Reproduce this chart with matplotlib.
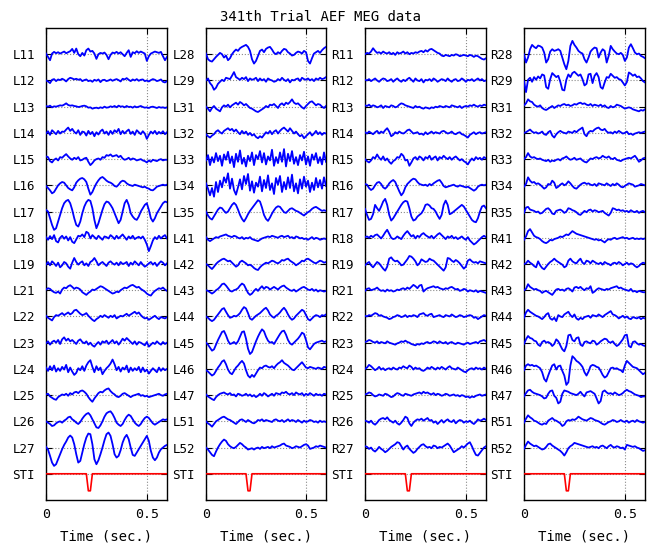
import numpy as np
import matplotlib
matplotlib.use("Agg")
import matplotlib.pyplot as plt

# ---------------- data ----------------
title = "341th Trial AEF MEG data"
xlabel = "Time (sec.)"
t_end = 0.6
xticks = [0, 0.5]
xticklabels = ["0", "0.5"]

labels_1 = ["L11", "L12", "L13", "L14", "L15", "L16", "L17", "L18",
            "L19", "L21", "L22", "L23", "L24", "L25", "L26", "L27", "STI"]
labels_2 = ["L28", "L29", "L31", "L32", "L33", "L34", "L35", "L41",
            "L42", "L43", "L44", "L45", "L46", "L47", "L51", "L52", "STI"]
labels_3 = ["R11", "R12", "R13", "R14", "R15", "R16", "R17", "R18",
            "R19", "R21", "R22", "R23", "R24", "R25", "R26", "R27", "STI"]
labels_4 = ["R28", "R29", "R31", "R32", "R33", "R34", "R35", "R41",
            "R42", "R43", "R44", "R45", "R46", "R47", "R51", "R52", "STI"]

# amplitudes (arbitrary units, up = positive), sampled every 10 ms from 0 to 0.6 s
traces_1 = [
    [2,-8,-18,2,7,3,6,2,5,8,3,6,9,16,4,17,0,-6,4,-4,12,17,8,10,2,-14,0,4,2,5,-2,-15,-2,5,3,7,2,6,0,-6,4,12,-8,6,3,9,4,8,5,2,-20,-6,2,5,8,6,4,7,-6,-18,-8],
    [0,-3,-8,2,4,-2,3,1,5,2,-3,4,8,6,3,5,2,4,-2,1,3,-2,0,-4,2,-1,3,-5,1,2,-2,0,3,-1,2,4,1,-3,5,3,7,2,-2,3,0,4,-1,2,3,-2,0,-3,1,4,2,-2,0,3,-4,-6,-2],
    [2,0,3,-2,1,0,2,4,3,6,10,5,3,4,2,1,-1,0,2,3,1,-3,-2,-6,-4,-3,-5,-2,-4,0,-3,-2,1,-1,2,-2,3,0,1,-2,2,-1,0,-3,1,-2,0,2,-1,-3,-2,-4,-1,0,-2,-4,-1,-3,-2,-4,-2],
    [-2,5,-6,8,2,-4,6,-2,4,3,10,16,6,12,3,-2,8,-6,4,2,-8,6,-4,3,-10,2,-5,5,10,-2,4,-6,6,-3,8,2,12,-4,6,-2,5,10,-3,4,-6,8,2,-4,5,-2,-18,-6,4,-2,6,-4,3,-2,5,-4,2],
    [8,6,-6,-10,-2,2,-4,6,4,10,15,8,2,-2,4,0,6,-4,-2,2,4,-8,-18,-12,-4,0,2,-2,6,4,12,10,14,8,10,12,6,10,2,-2,0,4,-2,2,0,-4,-2,0,-4,-6,-10,-4,-8,-2,-4,-6,-2,0,-4,-2,-2],
    [-2,-8,-15,-24,-20,-10,0,6,10,8,0,-8,-12,-15,-6,8,15,20,22,18,10,-10,-28,-20,-6,6,15,22,25,20,14,10,8,4,-2,-4,2,10,14,12,6,2,0,-2,2,0,-2,-4,-6,-4,-8,-10,-14,-15,-10,-4,-2,0,2,0,2],
    [5,0,-20,-40,-55,-50,-30,-10,10,25,32,35,25,5,-20,-40,-45,-30,-5,15,28,35,32,10,-25,-50,-35,-15,5,22,30,28,20,10,-5,-20,-35,-25,0,25,35,20,-5,-15,-22,-25,-15,0,10,20,25,5,-20,-30,-20,-5,5,15,25,30,28],
    [2,-6,5,-4,8,-10,-14,0,6,-3,4,-8,2,-12,-16,-5,6,4,10,2,18,14,-2,8,2,-4,6,0,-6,4,2,-2,8,3,-4,6,-2,4,10,2,-6,4,-2,6,-4,0,3,-2,4,-6,-20,-40,-25,-8,2,-4,6,-2,4,8,-2],
    [-2,6,-4,8,2,-6,4,-10,-4,6,2,-8,-14,4,18,6,-2,4,8,-4,2,-6,6,10,18,8,-4,2,6,0,-6,4,8,2,-2,4,-4,6,0,2,6,-6,4,-2,8,2,-4,6,-2,-8,-4,2,6,-2,4,-6,2,8,4,-4,2],
    [2,6,4,-2,-6,-8,-4,-10,2,8,6,12,15,10,4,8,6,2,-6,-10,-14,-8,-4,2,0,4,8,12,10,6,2,-2,-6,-10,-8,-4,-6,0,4,8,6,10,14,16,12,8,10,4,0,-4,-10,-14,-16,-8,-2,2,6,4,8,2,-2],
    [2,-4,-8,-12,-2,4,2,6,10,4,8,12,6,10,18,20,14,8,4,6,10,2,-4,-10,-14,-8,-4,2,-2,4,0,-4,2,-2,4,-6,-2,2,0,4,8,2,6,10,14,8,12,4,-2,-6,-4,-10,-6,-2,2,-4,-8,-2,-4,-6,-2],
    [-2,4,-6,2,6,0,8,-4,10,16,6,12,4,8,2,-4,6,10,2,-2,4,-6,0,-8,-12,-4,2,-6,4,0,6,-4,2,8,-2,4,-6,2,12,6,14,8,2,-4,4,-6,2,0,-4,-8,2,-12,-6,0,-4,4,-2,-6,2,-4,0],
    [4,-6,8,-4,10,-8,2,-6,6,-2,12,-10,4,-8,-18,-12,2,-4,8,-6,10,20,26,6,-10,8,-4,4,-16,-6,2,8,16,28,14,-4,6,-8,4,-2,10,-10,4,-6,2,-4,6,-10,4,-8,-2,-14,-6,2,-4,-10,4,-6,2,-4,0],
    [2,4,-4,-8,-12,-14,-6,-2,2,0,4,-2,6,2,8,10,6,12,14,10,4,-6,-14,-20,-10,-2,6,10,8,14,18,20,12,6,2,-4,-6,-2,4,6,2,-2,-6,-2,0,2,4,-2,0,-4,-2,-6,-4,-2,0,2,4,0,-2,2,4],
    [0,-4,-8,-14,-12,-6,-2,0,-4,2,6,12,14,6,2,-4,-8,-2,8,16,22,25,18,6,-6,-18,-20,-12,0,14,24,28,30,22,10,-4,-10,-14,-8,4,14,20,16,6,-4,-10,-14,-8,2,10,14,10,2,-6,-10,-6,-2,2,6,4,6],
    [2,-6,-25,-45,-55,-50,-35,-20,-5,8,18,30,36,30,10,-20,-45,-40,-15,10,30,42,40,10,-35,-50,-38,-20,0,22,40,45,35,10,-20,-30,-25,-8,15,30,38,25,0,-22,-25,-15,-5,5,15,25,35,20,-10,-30,-38,-30,-15,-5,0,5,8],
]

traces_2 = [
    [2,-15,-20,-22,-15,-8,-2,4,0,-10,-4,-18,-12,0,8,14,10,18,22,25,28,22,10,-15,-28,-20,-5,10,14,6,16,20,22,14,4,0,6,2,10,16,14,6,2,-4,-2,4,8,6,2,10,6,-20,-28,-12,2,6,10,4,12,18,22],
    [0,6,-8,-15,-28,-22,-10,-4,2,-2,8,6,4,14,25,10,6,2,8,4,10,-2,6,2,4,8,-2,6,0,4,-4,6,2,0,-4,-2,4,0,8,2,-2,4,-6,2,0,4,6,-2,8,4,2,6,0,4,-2,6,2,8,4,6,10],
    [0,-6,-14,-4,2,-6,-10,-14,-2,4,0,6,-2,4,8,12,6,14,10,4,8,2,-4,-6,-10,-14,-16,-12,-8,-4,2,-2,6,4,8,2,-4,6,10,4,12,8,14,22,12,8,10,4,-2,-6,2,8,14,16,10,4,8,6,0,-4,2],
    [-4,-10,-14,-8,-4,4,8,2,-2,6,10,14,8,12,4,10,2,-4,6,-2,4,-6,0,-8,-4,-12,-16,-10,-14,-6,2,-2,6,-4,4,8,-2,6,12,16,10,4,14,6,-2,4,-4,-10,-6,-16,-10,-4,2,-8,-2,6,-4,2,-6,0,-2],
    [-4,12,-18,6,-10,18,-6,10,-20,14,-2,22,-12,8,-24,16,-8,26,-14,4,-22,10,-6,20,-18,12,0,24,-10,18,-16,8,-4,28,-20,6,-12,20,-8,30,-22,16,-6,24,-14,6,-18,12,-4,22,-16,8,-20,14,-2,18,-12,6,-16,20,-8],
    [6,-10,-30,-8,-34,10,-20,14,-6,24,8,36,-10,20,-14,-28,-6,18,-12,28,4,34,-16,12,-22,8,-4,26,-18,16,-8,30,-14,6,-26,22,2,28,-20,10,-12,24,-8,32,-18,6,-24,18,-10,26,-4,14,-20,8,-14,22,-6,16,-10,24,-2],
    [0,-12,-20,-24,-14,-4,6,12,10,2,-4,0,10,20,26,20,6,-10,-22,-30,-20,-8,2,10,18,26,34,30,12,-10,-22,-28,-18,-6,4,12,16,14,6,-2,-4,2,8,10,6,2,0,-4,-8,-12,-6,-2,2,8,12,14,10,6,2,4,2],
    [2,-6,-10,-6,-2,2,0,4,6,8,10,6,4,2,6,4,0,-2,2,-4,0,-2,2,-4,-6,-8,-10,-6,-2,0,2,4,2,6,4,2,0,4,6,2,4,6,0,2,-2,4,2,-2,0,-4,-2,-6,-2,2,-4,0,-2,-6,-4,-2,-4],
    [0,-4,-10,-15,-8,0,6,10,14,16,12,8,10,4,-2,-8,-4,6,10,6,2,-4,-2,-6,-12,-16,-18,-10,-4,0,4,2,6,10,8,4,2,6,12,10,14,16,10,6,2,-4,0,4,10,8,14,16,12,8,4,2,6,10,8,4,6],
    [0,-2,-6,-10,-6,0,4,10,18,20,14,6,-2,-4,0,2,6,14,20,16,4,-8,-14,-10,-2,4,-2,6,12,4,10,8,2,6,10,6,2,8,12,14,8,4,0,-2,2,-4,0,4,8,10,6,2,0,4,-2,2,-4,0,-2,-4,-2],
    [0,-4,-10,-14,-10,-2,6,14,22,25,14,4,-4,-2,2,0,4,10,20,28,24,10,-6,-10,-4,2,6,10,16,22,26,18,6,0,-4,2,6,12,20,26,18,6,-4,-10,-6,2,8,14,20,16,4,-8,-12,-6,0,4,2,-2,4,2,6],
    [0,-6,-15,-24,-20,-6,8,20,32,35,22,6,-4,-2,2,-4,4,18,32,34,12,-18,-34,-28,-12,4,18,30,40,34,18,6,0,2,-4,6,16,26,34,36,24,8,-2,-6,0,6,12,20,30,26,8,-14,-20,-12,-4,0,2,4,6,2,4],
    [-4,-8,-14,-20,-16,-6,4,12,22,26,14,-2,-12,-16,-6,4,10,18,24,16,-4,-20,-26,-18,-24,-14,-4,4,2,8,10,6,4,8,2,10,16,20,26,18,14,10,4,-2,-4,2,8,14,20,12,4,2,6,4,2,0,4,2,0,6,4],
    [2,-4,-8,-12,-15,-6,0,4,6,8,4,2,6,0,2,-4,4,2,-2,0,4,-2,2,-4,0,-6,-2,4,-2,6,2,-4,0,4,-2,6,4,2,8,6,10,4,2,6,0,8,4,2,6,-2,4,0,6,2,-2,4,0,2,-2,4,2],
    [0,-6,-10,-16,-8,0,4,8,12,14,10,6,4,0,-4,-8,-2,4,6,2,-2,4,0,-4,-6,-2,4,2,6,0,4,2,0,-2,4,6,2,0,4,-2,2,6,0,4,2,-2,4,0,-4,2,-2,0,4,2,-2,0,-4,2,-2,0,-2],
    [0,-6,-14,-22,-26,-12,0,10,18,24,20,10,4,0,-2,2,8,14,10,4,0,-6,-4,-2,-6,-2,0,-4,2,-2,0,2,-2,4,0,2,4,6,10,12,6,4,2,-2,0,4,2,0,4,8,10,6,-4,-2,0,4,2,6,4,2,0],
]

traces_3 = [
    [0,4,2,8,18,10,4,6,2,8,4,2,6,0,4,-2,6,2,4,8,2,6,0,4,2,6,4,8,10,6,12,8,14,16,12,8,4,2,-4,-6,-2,-4,-6,-2,-4,0,-2,-6,-4,-2,-4,-6,-2,-4,-8,-4,-6,-10,-14,-16,-12],
    [2,0,4,-2,2,6,0,-4,2,6,4,-2,0,4,-4,2,6,0,-4,2,-2,4,8,2,-4,6,0,-2,4,-6,2,0,4,-2,6,2,-4,0,4,2,-2,6,0,-4,2,4,-2,0,6,2,-4,2,0,4,-2,2,6,0,4,-2,0],
    [4,2,6,0,4,2,-2,0,4,-4,2,0,-2,4,2,-2,0,6,10,8,4,2,0,-2,-4,2,-2,0,-4,-6,-2,-4,-6,-2,-4,0,-2,2,0,-2,2,0,-2,4,2,0,-2,2,-4,0,2,0,4,2,6,2,0,4,2,6,4],
    [2,-2,4,0,-4,2,6,-2,4,0,8,14,4,-10,-6,2,-2,4,0,-2,2,8,10,4,-2,0,2,-4,-2,-6,2,-4,0,4,-2,2,0,-2,4,6,2,-2,0,4,-2,-4,0,2,-4,-6,-10,-14,-6,-2,2,-4,0,2,-2,0,2],
    [0,-6,-10,-4,6,2,14,4,-2,8,-4,2,-8,-14,-6,-2,6,4,16,10,-4,-2,-20,-10,2,6,-2,8,4,-4,6,2,10,-2,4,8,-4,6,2,10,4,0,6,-2,4,8,2,-4,0,-6,-10,-16,-6,2,-4,6,0,4,-2,6,2],
    [4,2,-8,-14,-10,0,8,10,4,-6,-10,-4,6,12,16,10,-4,-18,-30,-22,-6,4,10,16,20,18,10,4,2,0,2,-2,4,0,6,10,14,16,8,-2,-6,-4,-2,0,2,-2,-4,0,-2,-4,-6,-4,-8,-12,-16,-12,-4,0,2,0,2],
    [8,-10,-25,-22,-8,20,10,2,15,30,38,20,-10,-27,-20,-10,0,10,20,28,32,30,10,-15,-27,-24,-15,-10,-5,5,20,22,18,10,8,0,-12,-22,-10,20,33,20,-8,-5,0,5,10,15,20,15,5,-5,-15,-25,-30,-32,-20,0,15,18,10],
    [2,4,0,6,2,8,10,4,-2,6,16,24,12,0,-4,-2,4,0,-4,6,14,20,12,4,8,-2,6,2,10,14,8,4,0,6,-2,4,10,14,8,2,-4,4,0,6,-2,2,-4,0,4,-2,-6,2,-8,-14,-20,-16,-10,-4,2,6,2],
    [-4,2,6,-4,-10,-2,6,2,-6,-14,-20,-8,16,20,12,8,10,4,-4,-2,6,14,24,22,16,8,-4,2,14,10,6,8,16,12,10,4,-2,-8,-14,-20,-10,18,16,10,6,12,8,2,-6,-14,-8,10,14,8,4,6,2,8,6,4,2],
    [-2,4,6,0,2,4,8,2,-2,0,-4,2,-2,0,-4,-2,2,0,4,6,2,8,4,10,16,12,6,14,16,-4,2,6,8,10,12,8,10,6,4,2,6,4,8,10,6,2,4,-2,0,4,2,-4,0,-2,-4,0,-6,-2,-4,-6,-8],
    [2,0,4,2,6,10,8,2,4,0,-2,-4,-8,-6,-2,0,4,2,-2,0,4,-2,2,0,4,2,-2,6,8,10,4,2,6,8,-2,0,2,4,0,-2,4,2,0,6,2,-2,0,4,2,-2,0,2,4,2,-4,-2,-8,-4,0,4,2],
    [2,4,8,6,2,0,4,-2,2,0,-2,4,0,-2,-4,-6,-2,0,4,2,6,2,0,-4,-6,-8,-4,-6,-2,-4,0,2,-2,0,4,2,-2,4,0,-2,2,-4,0,2,-2,-4,0,-2,-4,-6,-2,0,-4,-2,0,2,-2,4,6,8,4],
    [0,4,12,8,2,-4,0,6,-2,2,-4,0,2,-2,4,0,-2,4,2,8,4,2,10,6,-2,4,0,2,-4,-6,-2,4,0,6,2,-2,4,0,6,2,-2,4,8,2,0,-2,4,0,-4,-8,-10,-4,0,2,-2,4,0,2,-2,4,0],
    [2,4,8,6,0,-4,-2,2,0,-2,4,2,-2,-6,-4,2,6,4,0,-2,4,2,0,-2,2,4,6,8,4,10,6,8,4,2,6,0,4,2,-2,0,4,2,-2,0,2,-2,0,-4,0,-2,-6,-4,-8,-4,-6,-2,0,2,-2,0,2],
    [2,0,-4,2,-6,-10,-4,4,8,10,6,12,4,0,-4,2,-6,-10,-4,4,14,10,-6,-14,-4,2,6,4,8,2,6,10,2,4,-4,0,-8,-2,4,-4,2,6,0,-2,4,-6,0,4,2,-4,0,-2,2,-4,-8,-2,6,2,4,8,4],
    [4,2,-4,0,-8,-12,-6,2,-4,-8,-14,-10,-4,2,6,10,16,14,4,-6,2,6,-4,-10,-16,-12,-4,2,8,10,4,0,2,-2,6,4,-2,2,0,4,8,12,6,-4,-14,-10,-6,-2,4,0,6,12,16,4,-10,-22,-24,-16,-8,0,4],
]

traces_4 = [
    [0,-25,-10,15,28,22,18,26,24,20,5,-25,-15,8,15,10,12,15,10,-10,-30,-45,-20,25,40,28,20,10,5,2,-15,-25,-10,8,15,20,18,-10,5,15,10,-25,-5,25,15,8,2,0,4,-2,-20,-10,20,30,18,5,0,2,-5,-8,-12],
    [-2,-35,2,8,-4,10,2,12,6,18,15,-20,-25,4,22,16,10,14,-4,-28,-30,2,18,10,22,26,20,14,18,4,-15,-10,18,20,-8,14,22,10,-20,-25,-6,10,8,20,14,8,10,4,2,-6,-15,-5,24,20,14,18,10,12,6,-2,-6],
    [4,10,22,16,14,6,2,0,4,-4,-8,-10,-6,-2,2,-4,0,4,2,6,8,4,6,2,4,8,6,10,12,8,10,6,4,8,2,6,4,2,6,0,4,-2,-4,2,-2,0,6,4,2,-2,-6,-4,-2,-4,-8,-10,-12,-14,-10,-12,-8],
    [0,2,6,10,4,0,2,-2,0,4,-4,-6,2,6,-8,-14,-4,2,6,2,0,-2,4,2,0,6,2,8,12,16,-4,-10,2,6,4,10,14,16,10,8,12,4,0,2,-2,4,0,6,2,-2,0,4,-4,-2,-6,-2,0,2,0,2,4],
    [0,6,18,8,4,6,2,0,2,-2,-4,-6,-2,-8,-4,-6,-2,0,-4,2,4,8,2,-2,0,4,-2,0,2,-4,-8,-10,-4,2,0,4,6,2,4,10,6,4,8,2,0,4,-2,-4,-6,-2,0,2,4,2,6,10,2,-8,-4,2,4],
    [-4,4,24,14,8,10,4,6,2,-4,-10,-6,4,2,14,8,-8,-4,2,6,0,4,12,6,-2,-8,-10,-4,2,6,8,4,6,2,0,4,-2,6,4,2,0,6,2,-2,4,0,6,2,-4,-6,-2,2,6,4,2,-4,-2,0,4,2,0],
    [-4,12,14,6,4,2,-2,0,-6,-4,2,8,10,4,-6,-8,2,4,6,2,-4,0,10,8,4,2,-2,-8,-10,-4,2,-2,4,6,0,4,2,-2,0,2,-4,-8,-12,-4,10,8,4,6,2,4,0,2,-2,4,0,-2,2,-4,0,2,-2],
    [-6,4,20,26,16,6,2,0,-4,-10,-14,-16,-12,-6,-8,-4,-2,0,4,2,6,10,8,14,20,16,12,10,8,6,4,2,0,-2,-4,-6,-4,-8,-6,-10,-14,-8,-4,-6,-2,0,-4,-2,0,2,-2,0,-4,-2,0,-4,-2,-4,-2,-4,-2],
    [0,2,10,4,0,-6,-10,8,-4,-12,-16,-8,0,6,10,16,10,6,2,-2,-10,-6,10,16,8,4,2,10,16,4,0,10,8,2,10,6,2,0,4,-2,6,2,0,-4,2,4,0,6,2,-4,0,4,-2,2,0,-6,-10,-6,0,4,2],
    [0,4,18,10,6,2,4,0,-2,-8,-4,-2,-6,-10,-14,-6,2,4,0,2,-2,4,6,2,-4,8,10,6,10,4,0,6,4,12,-8,-4,2,6,4,2,0,4,2,6,8,10,12,6,8,4,2,0,-2,4,-4,-2,-6,-2,-4,-6,-6],
    [-4,12,20,14,10,6,2,0,-4,-8,-2,6,10,-6,-10,-4,-14,4,0,-2,6,10,14,4,-2,6,-6,-10,-4,-8,-2,0,2,-4,4,2,0,6,2,-2,4,8,12,16,6,4,0,-6,-2,2,-4,0,-6,-8,-2,-4,-6,-2,-8,-4,-6],
    [-4,10,20,14,12,6,4,-6,-10,2,6,0,2,-2,-10,-4,10,4,-8,-20,-26,-10,22,24,8,4,14,16,-6,-10,2,4,0,-2,6,4,-6,-2,4,8,12,10,2,0,4,-4,-10,-6,2,10,22,24,-10,-14,2,4,-2,-6,-4,-8,-10],
    [-4,10,14,10,12,8,10,6,2,-10,-30,-38,-20,-4,10,14,-2,8,10,-6,-20,-48,-40,10,38,32,24,20,14,6,-10,-20,-8,8,12,10,6,4,-6,-18,-26,-22,-10,2,4,0,2,-2,-4,-10,10,24,18,12,6,4,2,-4,-10,-16,-12],
    [-4,6,14,16,10,6,4,2,0,-4,-10,-8,4,12,14,-2,-8,-25,-20,4,14,12,10,6,4,2,0,4,10,2,-4,8,10,12,8,4,-10,-25,-18,10,14,8,4,6,2,8,4,0,2,6,12,16,12,10,6,2,0,-2,-6,-4,-4],
    [-4,8,18,12,8,2,0,-4,-8,-10,-6,-8,2,6,10,4,2,-2,-6,-14,-10,0,4,2,6,4,8,14,10,6,4,2,6,10,8,4,2,0,-4,-8,-10,-6,-2,0,4,2,-2,0,4,0,-2,2,-4,0,2,-2,4,0,-2,-4,-2],
    [-4,8,18,12,8,4,6,2,-2,-6,-4,2,10,12,6,2,-2,-6,-10,-16,-24,-14,-2,4,8,14,12,10,8,6,4,2,0,2,4,0,2,-2,4,6,2,-2,4,8,2,0,4,2,-2,0,-6,8,6,4,2,4,0,-2,-6,-10,-8],
]

# stimulus trigger channel (0 = off, 1 = on), same 10 ms sampling
sti = [0,0,0,0,0,0,0,0,0,0,0,0,0,0,0,0,0,0,0,0,0,1,1,0,0,0,0,0,0,0,
       0,0,0,0,0,0,0,0,0,0,0,0,0,0,0,0,0,0,0,0,0,0,0,0,0,0,0,0,0,0,0]

# ---------------- style ----------------
GAIN = 1 / 78.6       # channel spacing per amplitude unit
STI_DEPTH = 0.65
MONO = "DejaVu Sans Mono"
W, H = 653, 549

fig = plt.figure(figsize=(W / 100, H / 100), dpi=100)
panels = [(labels_1, traces_1), (labels_2, traces_2),
          (labels_3, traces_3), (labels_4, traces_4)]
lefts = [46, 206, 365, 524]
widths = [121, 120, 121, 121]
top_px, bot_px = 28, 500

for p, (labs, trs) in enumerate(panels):
    ax = fig.add_axes([lefts[p] / W, 1 - bot_px / H, widths[p] / W, (bot_px - top_px) / H])
    for i, vals in enumerate(trs):
        v = np.asarray(vals, float)
        t = np.linspace(0, t_end, len(v))
        ax.plot(t, (i + 1) - v * GAIN, color=(0, 0, 1), lw=1.3, zorder=3)
    s = np.asarray(sti, float)
    ts = np.linspace(0, t_end, len(s))
    ax.plot(ts, len(labs) + s * STI_DEPTH, color=(1, 0, 0), lw=1.2, zorder=3)
    ax.set_xlim(0, t_end)
    ax.set_ylim(len(labs) + 1, 0)
    ax.set_yticks(np.arange(1, len(labs) + 1))
    ax.set_yticklabels(labs, fontfamily=MONO, fontsize=9)
    ax.set_xticks(xticks)
    ax.set_xticklabels(xticklabels, fontfamily=MONO, fontsize=9.5)
    ax.grid(True, linestyle=":", color="#8a8a8a", linewidth=0.8, zorder=1)
    ax.tick_params(direction="in", left=True, right=True, top=True, bottom=True,
                   length=4, width=0.8)
    ax.tick_params(axis="y", pad=8)
    ax.tick_params(axis="x", pad=6)
    for sp in ax.spines.values():
        sp.set_linewidth(1.0)
    ax.set_xlabel(xlabel, fontfamily=MONO, fontsize=10, labelpad=6)

fig.text(320 / W, 1 - 17 / H, title, ha="center", va="center",
         fontfamily=MONO, fontsize=10)
fig.savefig("out.png", dpi=100)
